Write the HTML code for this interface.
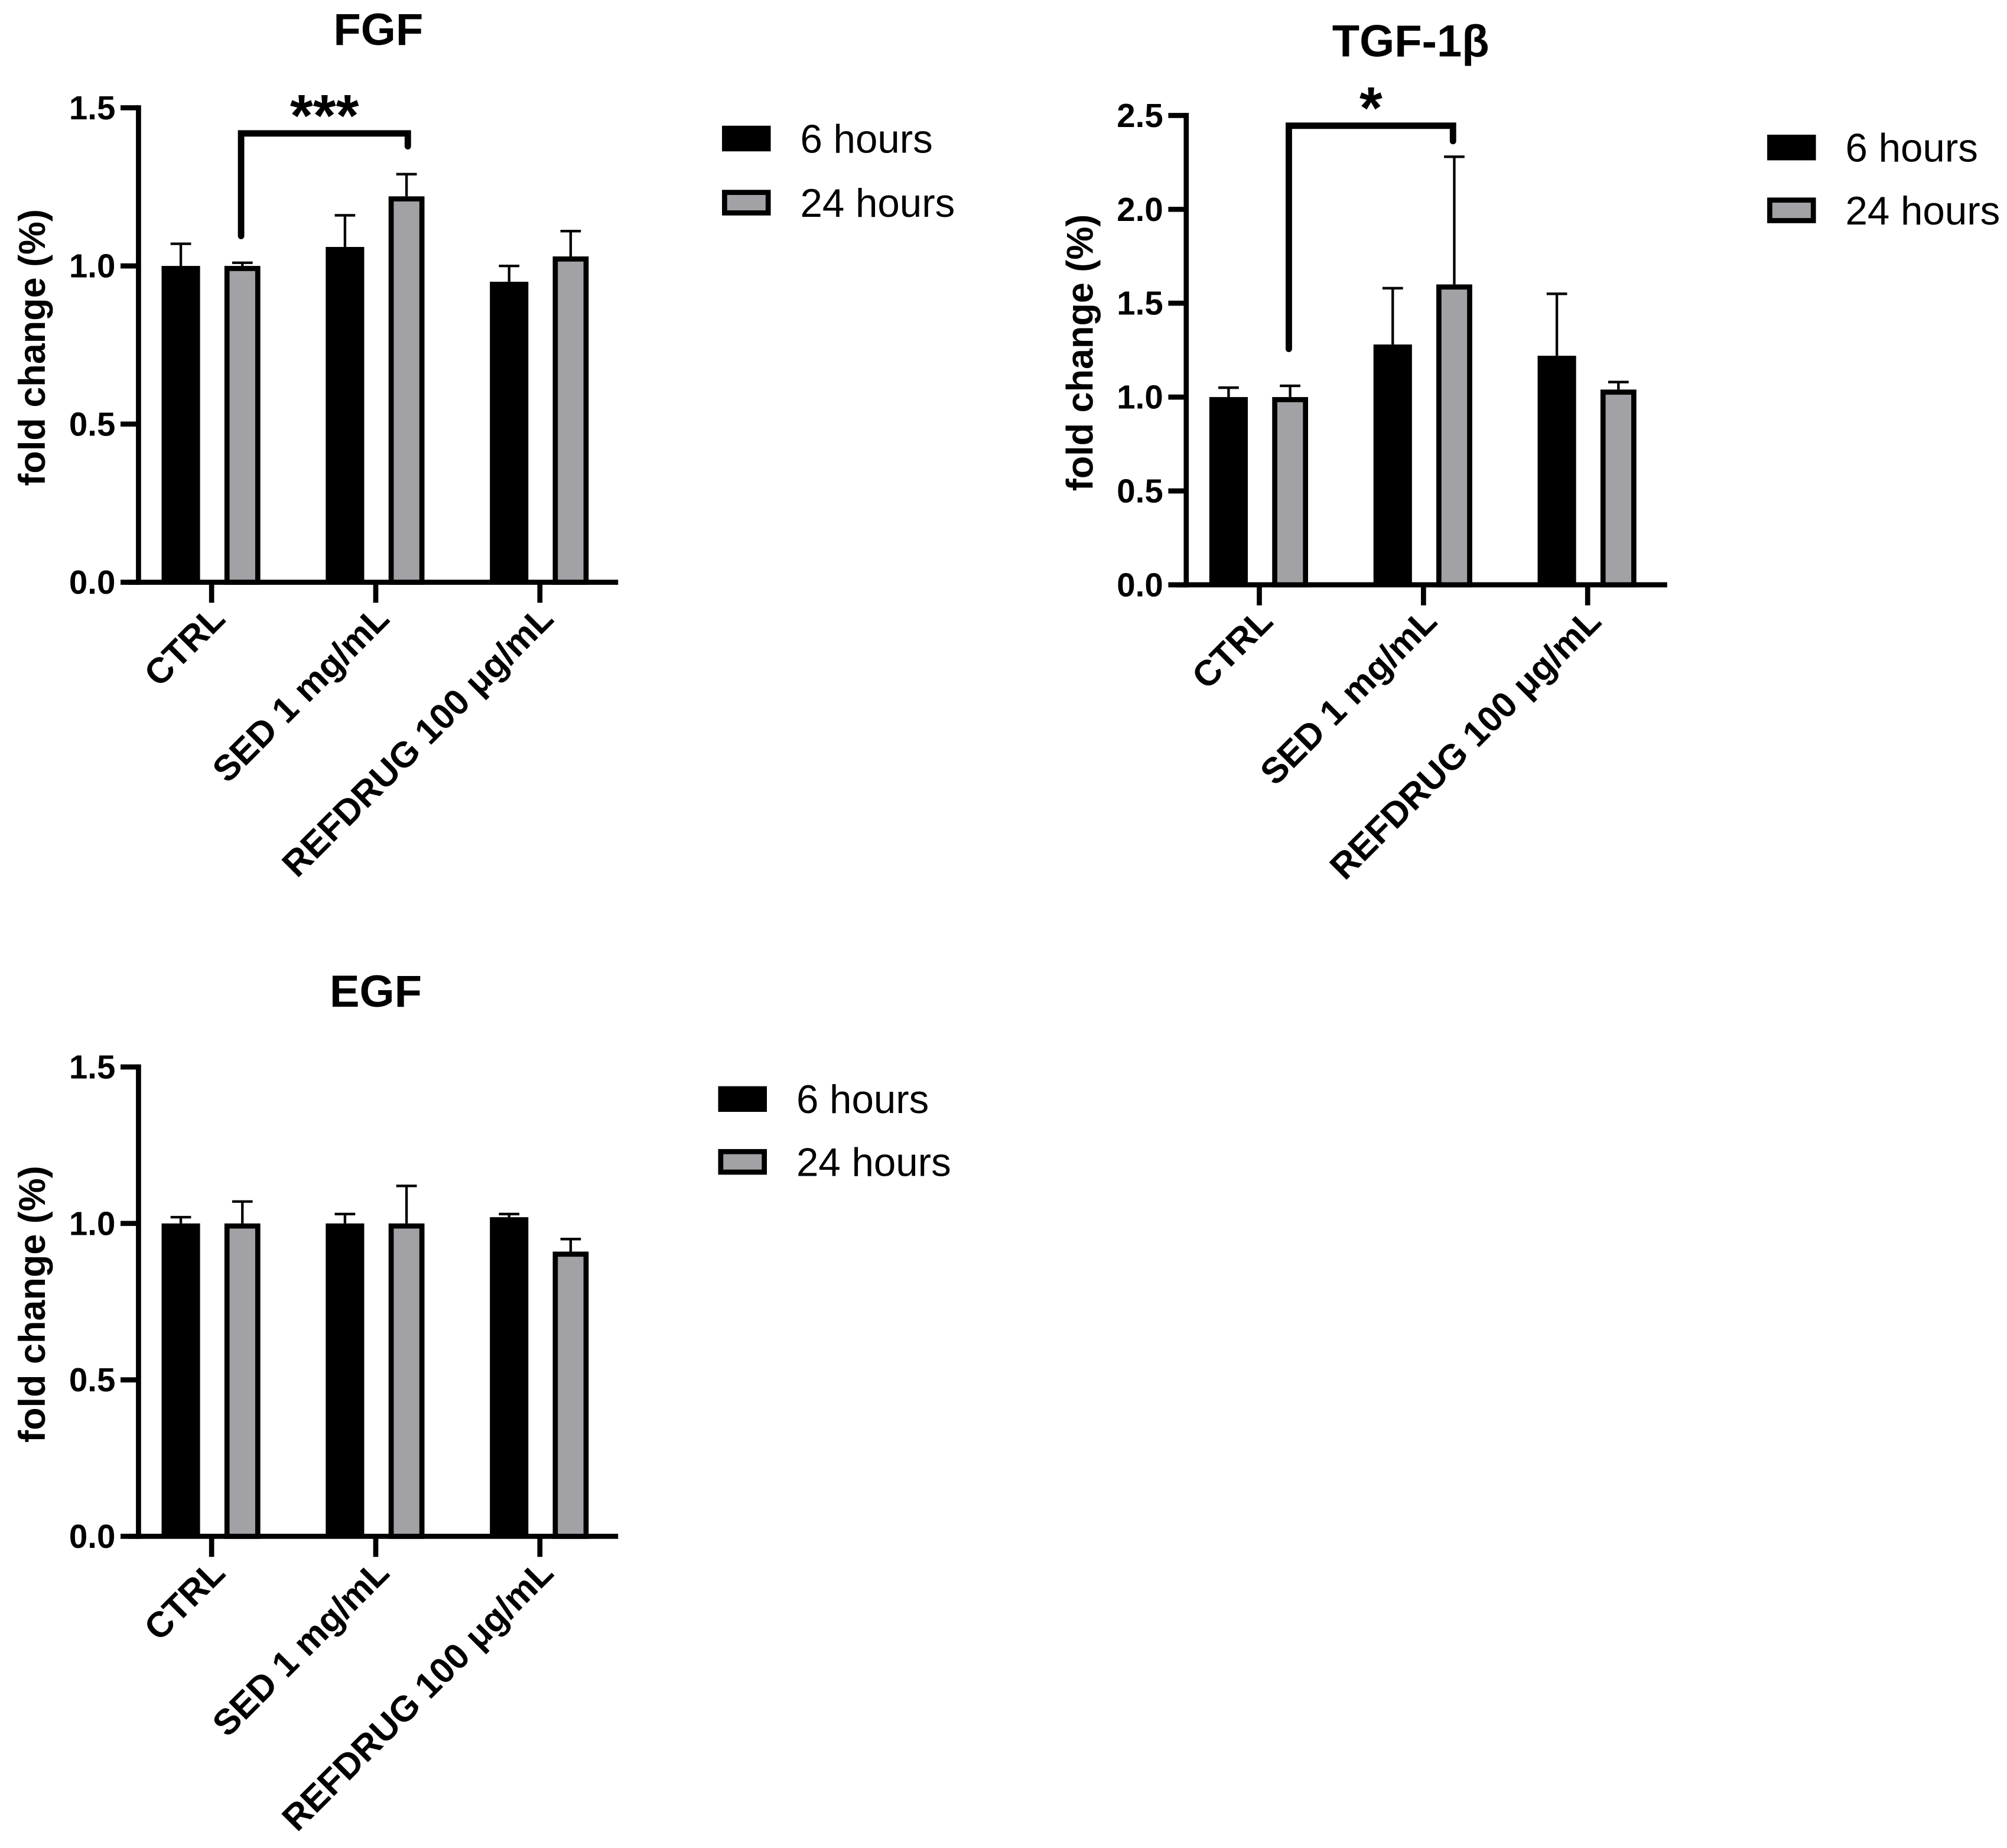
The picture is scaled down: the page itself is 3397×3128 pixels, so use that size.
<!DOCTYPE html>
<html><head><meta charset="utf-8"><style>
html,body{margin:0;padding:0;background:#fff;}
svg{display:block;}
text{font-family:"Liberation Sans",Arial,sans-serif;fill:#000;}
</style></head><body>
<svg id="fig" xmlns="http://www.w3.org/2000/svg" width="3397" height="3128" viewBox="0 0 1565 1441"></svg>
<script>
const categories = ["CTRL", "SED 1 mg/mL", "REFDRUG 100 μg/mL"];
const seriesNames = ["6 hours", "24 hours"];
const fgf6 = [1.0, 1.06, 0.95];
const fgf6Err = [0.07, 0.10, 0.05];
const fgf24 = [1.0, 1.22, 1.03];
const fgf24Err = [0.01, 0.07, 0.08];
const fgfTicks = [0.0, 0.5, 1.0, 1.5];
const tgf6 = [1.0, 1.28, 1.22];
const tgf6Err = [0.05, 0.30, 0.33];
const tgf24 = [1.0, 1.60, 1.04];
const tgf24Err = [0.06, 0.68, 0.04];
const tgfTicks = [0.0, 0.5, 1.0, 1.5, 2.0, 2.5];
const egf6 = [1.0, 1.0, 1.02];
const egf6Err = [0.02, 0.03, 0.01];
const egf24 = [1.0, 1.0, 0.91];
const egf24Err = [0.07, 0.12, 0.04];
const egfTicks = [0.0, 0.5, 1.0, 1.5];

const NS = "http://www.w3.org/2000/svg";
const svg = document.getElementById("fig");
function mk(tag, attrs, parent, txt) {
  const e = document.createElementNS(NS, tag);
  for (const k in attrs) e.setAttribute(k, attrs[k]);
  if (txt !== undefined) e.textContent = txt;
  (parent || svg).appendChild(e);
  return e;
}

function panel(o) {
  const g = mk("g", {});
  
  
  const ymax = o.ticks[o.ticks.length - 1];
  const yS = v => o.y0 - (v / ymax) * (o.y0 - o.yTop);
  const t = mk("text", {x: o.titleX, y: o.titleY, "font-size": 35, "font-weight": "bold", "text-anchor": "middle"}, g, o.title);
  
  
  const ya = mk("line", {x1: o.ax, y1: o.yTop - 2, x2: o.ax, y2: o.y0 + 2, stroke: "#000", "stroke-width": 4}, g);
  
  
  const xa = mk("line", {x1: o.ax - 8, y1: o.y0, x2: o.axEnd, y2: o.y0, stroke: "#000", "stroke-width": 4}, g);
  
  
  o.ticks.forEach(v => {
    const y = yS(v);
    mk("line", {x1: o.ax - 14, y1: y, x2: o.ax, y2: y, stroke: "#000", "stroke-width": 4}, g);
    const tl = mk("text", {x: o.ax - 18, y: y + 9, "font-size": 26, "font-weight": "bold", "text-anchor": "end"}, g, v.toFixed(1));
    
    
  });
  const yl = mk("text", {x: 0, y: 0, "font-size": 29, "font-weight": "bold", "text-anchor": "middle", transform: `translate(${o.ax - 73},${(o.yTop + o.y0) / 2 + 2}) rotate(-90)`}, g, "fold change (%)");
  
  
  const grp = 128, bw = 30;
  categories.forEach((c, i) => {
    const cx = o.ax + 57 + i * grp;
    mk("line", {x1: cx, y1: o.y0, x2: cx, y2: o.y0 + 16, stroke: "#000", "stroke-width": 4}, g);
    const lab = mk("text", {x: 0, y: 0, "font-size": 28, "font-weight": "bold", "text-anchor": "end", transform: `translate(${cx + 12},${o.y0 + 30}) rotate(-45)`}, g, c);
    
    
    const x1 = o.ax + 18 + i * grp;
    const e1 = yS(o.s6[i] + o.e6[i]);
    mk("line", {x1: x1 + bw / 2, y1: e1, x2: x1 + bw / 2, y2: yS(o.s6[i]), stroke: "#000", "stroke-width": 2}, g);
    mk("line", {x1: x1 + bw / 2 - 8, y1: e1, x2: x1 + bw / 2 + 8, y2: e1, stroke: "#000", "stroke-width": 2}, g);
    const b1 = mk("rect", {x: x1, y: yS(o.s6[i]), width: bw, height: o.y0 - yS(o.s6[i]), fill: "#000"}, g);
    
    
    const x2 = x1 + 49;
    const e2 = yS(o.s24[i] + o.e24[i]);
    mk("line", {x1: x2 + bw / 2 - 1, y1: e2, x2: x2 + bw / 2 - 1, y2: yS(o.s24[i]), stroke: "#000", "stroke-width": 2}, g);
    mk("line", {x1: x2 + bw / 2 - 9, y1: e2, x2: x2 + bw / 2 + 7, y2: e2, stroke: "#000", "stroke-width": 2}, g);
    const b2 = mk("rect", {x: x2 + 2, y: yS(o.s24[i]) + 2, width: bw - 6, height: o.y0 - yS(o.s24[i]) - 2, fill: "#a2a1a6", stroke: "#000", "stroke-width": 4}, g);
    
    
  });
  seriesNames.forEach((n, i) => {
    const ly = o.legY + i * o.legGap;
    const r = mk("rect", {x: o.legX + 2, y: ly - 8, width: 34, height: 16, fill: i ? "#a2a1a6" : "#000", stroke: "#000", "stroke-width": 4}, g);
    
    
    const lt = mk("text", {x: o.legX + 61, y: ly + 11, "font-size": 31}, g, n);
    
    
  });
  if (o.sig) {
    const s = o.sig;
    const p = mk("polyline", {points: `${s.x1},${s.b1} ${s.x1},${s.top} ${s.x2},${s.top} ${s.x2},${s.b2}`, fill: "none", stroke: "#000", "stroke-width": 5, "stroke-linecap": "round"}, g);
    
    
    const st = mk("text", {x: (s.x1 + s.x2) / 2, y: s.top + 2, "font-size": 46, "font-weight": "bold", "text-anchor": "middle"}, g, s.label);
    
    
  }
}

panel({name: "fgf", title: "FGF", titleX: 295, titleY: 35, ax: 108, axEnd: 482, yTop: 84, y0: 454, ticks: fgfTicks,
  s6: fgf6, e6: fgf6Err, s24: fgf24, e24: fgf24Err, legX: 563, legY: 108, legGap: 50,
  sig: {x1: 188, x2: 318, top: 104, b1: 184, b2: 114, label: "***"}});
panel({name: "tgf", title: "TGF-1β", titleX: 1100, titleY: 44, ax: 925, axEnd: 1300, yTop: 90, y0: 456, ticks: tgfTicks,
  s6: tgf6, e6: tgf6Err, s24: tgf24, e24: tgf24Err, legX: 1378, legY: 115, legGap: 49,
  sig: {x1: 1005, x2: 1133, top: 98, b1: 272, b2: 110, label: "*"}});
panel({name: "egf", title: "EGF", titleX: 293, titleY: 785, ax: 108, axEnd: 482, yTop: 832, y0: 1198, ticks: egfTicks,
  s6: egf6, e6: egf6Err, s24: egf24, e24: egf24Err, legX: 560, legY: 857, legGap: 49});
</script>
</body></html>
